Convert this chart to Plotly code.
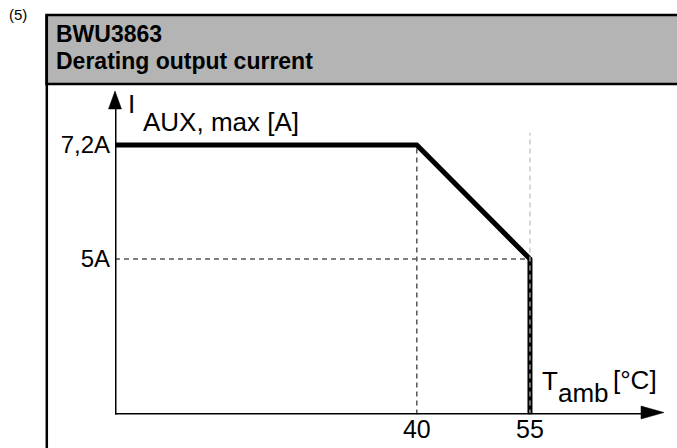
import plotly.graph_objects as go

W, H = 677, 448

# ---- data ----
temp_c = [0, 40, 55, 55]
current_a = [7.2, 7.2, 5.0, 2.0]
x_ticks = [40, 55]
x_tick_text = ["40", "55"]
y_ticks = [5.0, 7.2]
y_tick_text = ["5A", "7,2A"]
title_lines = ["BWU3863", "Derating output current"]
figure_no = "(5)"
x_range = [0, 72.5]
y_range = [2.0, 8.2]
y_floor = 2.0
knee_x = 40
end_x = 55
knee_y = 5.0
dash_top = 7.43

def px(x):
    return x / W

def py(y):
    return 1 - y / H

FONT = "Liberation Sans, Arial, sans-serif"

fig = go.Figure()

fig.add_trace(go.Scatter(
    x=temp_c, y=current_a, mode="lines",
    line=dict(color="black", width=5),
    hoverinfo="skip", showlegend=False,
))

shapes = []
# header box
shapes.append(dict(type="rect", xref="paper", yref="paper",
                   x0=px(46.5), x1=px(700), y0=py(84), y1=py(15),
                   fillcolor="#b4b4b4", line=dict(color="black", width=2.5), layer="below"))
shapes.append(dict(type="line", xref="paper", yref="paper",
                   x0=px(46.8), x1=px(46.8), y0=py(15), y1=py(460),
                   line=dict(color="black", width=2.5)))
# dashed guide lines
shapes.append(dict(type="line", xref="x", yref="y", x0=0, x1=end_x, y0=knee_y, y1=knee_y,
                   line=dict(color="#555555", width=1.5, dash="5px,4px"), layer="below"))
shapes.append(dict(type="line", xref="x", yref="y", x0=knee_x, x1=knee_x, y0=y_floor, y1=current_a[1],
                   line=dict(color="#555555", width=1.5, dash="5px,4px"), layer="below"))
shapes.append(dict(type="line", xref="x", yref="y", x0=end_x, x1=end_x, y0=y_floor, y1=dash_top,
                   line=dict(color="#bbbbbb", width=1.2, dash="5px,4px"), layer="above"))
# axes lines
shapes.append(dict(type="line", xref="x", yref="y", x0=-0.25, x1=x_range[1] - 2.5, y0=y_floor, y1=y_floor,
                   line=dict(color="black", width=3)))
shapes.append(dict(type="line", xref="x", yref="y", x0=0, x1=0, y0=y_floor - 0.03, y1=y_range[1] - 0.25,
                   line=dict(color="black", width=3)))
# arrow heads
xa_y = 412.5
shapes.append(dict(type="path", xref="paper", yref="paper",
                   path=f"M {px(641)},{py(xa_y-6.5)} L {px(664)},{py(xa_y)} L {px(641)},{py(xa_y+6.5)} Z",
                   fillcolor="black", line=dict(color="black", width=0.5)))
ya_x = 115
shapes.append(dict(type="path", xref="paper", yref="paper",
                   path=f"M {px(ya_x-6.5)},{py(109)} L {px(ya_x)},{py(91)} L {px(ya_x+6.5)},{py(109)} Z",
                   fillcolor="black", line=dict(color="black", width=0.5)))

def label(text, x, y, size, bold=False):
    return dict(text=f"<b>{text}</b>" if bold else text, xref="paper", yref="paper",
                x=px(x), y=py(y), xanchor="left", yanchor="middle", showarrow=False,
                font=dict(family=FONT, size=size, color="black"))

annotations = [
    label(figure_no, 7, 14, 15),
    label(title_lines[0], 54, 34, 23, bold=True),
    label(title_lines[1], 54, 61, 23, bold=True),
    label("I", 126, 104, 26),
    label("AUX, max [A]", 141, 122, 26),
    label("T", 540, 381, 26),
    label("amb", 556, 393, 26),
    label("[°C]", 611, 380, 26),
]

fig.update_layout(
    width=W, height=H,
    margin=dict(l=0, r=0, t=0, b=0),
    paper_bgcolor="white", plot_bgcolor="white",
    shapes=shapes, annotations=annotations,
    xaxis=dict(domain=[px(115), px(662)], range=x_range, showgrid=False, zeroline=False,
               showline=False, ticks="", tickvals=x_ticks, ticktext=x_tick_text,
               ticklabelstandoff=-3,
               tickfont=dict(family=FONT, size=25, color="black"), fixedrange=True),
    yaxis=dict(domain=[py(414.5), py(93.2)], range=y_range, showgrid=False, zeroline=False,
               showline=False, ticks="", tickvals=y_ticks, ticktext=y_tick_text,
               ticklabelstandoff=4,
               tickfont=dict(family=FONT, size=24, color="black"), fixedrange=True),
)

fig.write_html("out.html", post_script="document.body.style.margin='0';",
               config={"displayModeBar": False})
